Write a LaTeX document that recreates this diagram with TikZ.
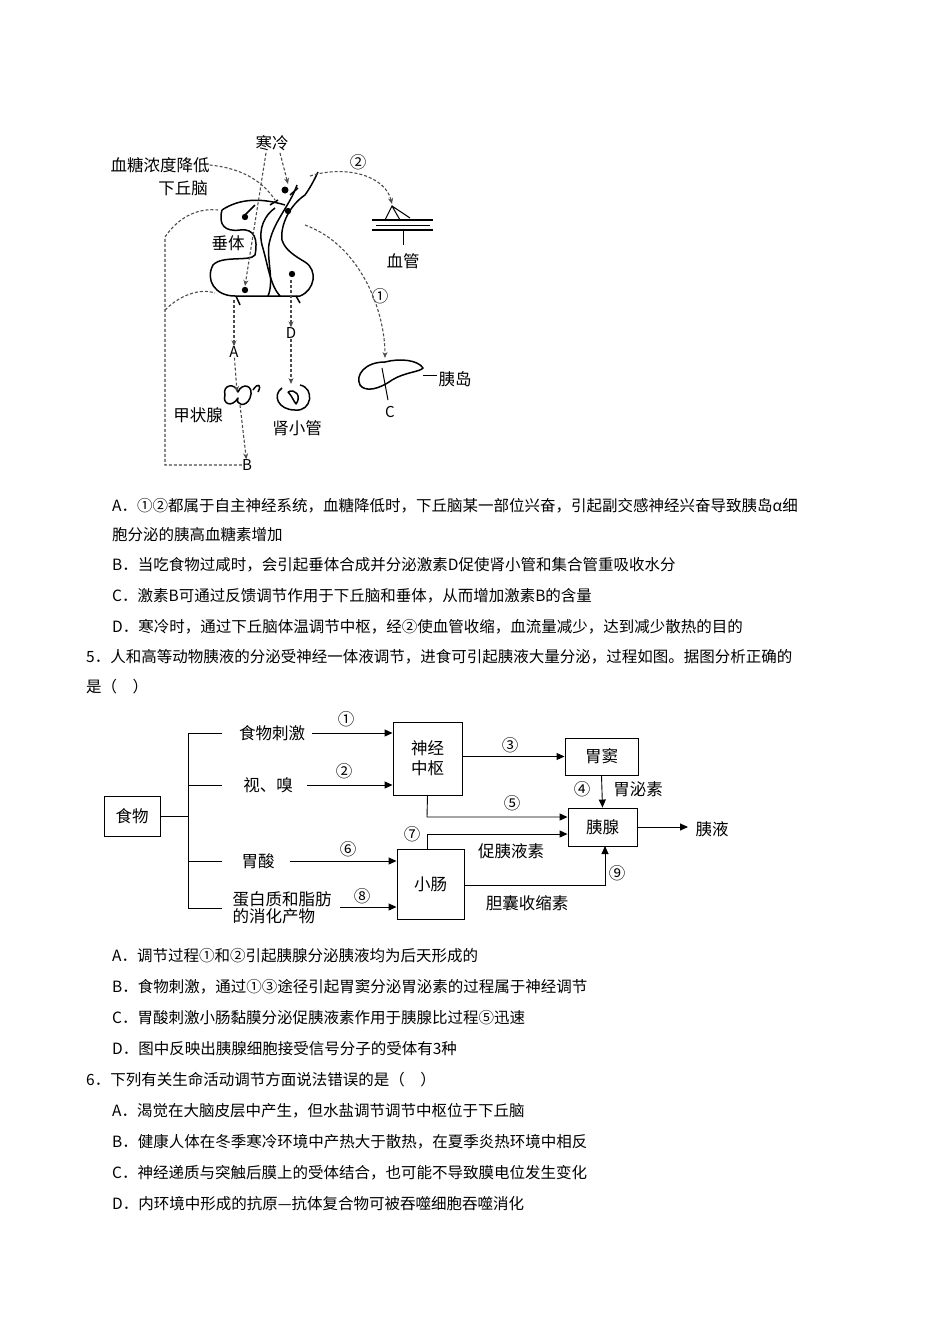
\documentclass[tikz,border=0pt]{standalone}
\usepackage{fontspec}
\setmainfont{Noto Sans CJK SC}
\usetikzlibrary{arrows.meta}
\begin{document}
\begin{tikzpicture}[x=1pt,y=-1pt,
 t/.style={font=\fontsize{15.5}{16}\selectfont,inner sep=0pt},
 opt/.style={t,anchor=west},
 lab/.style={font=\fontsize{16.5}{17}\selectfont,inner sep=0pt},
 bx/.style={draw,line width=0.9pt,minimum width=#1,inner sep=0pt,font=\fontsize{16.5}{20}\selectfont,align=center},
 ar/.style={-{Triangle[length=8pt,width=7pt]},line width=0.9pt},
 ln/.style={line width=0.9pt},
 dsh/.style={densely dashed,line width=1.1pt,gray!60!black},
 dar/.style={dsh,-{Stealth[length=6pt,width=5pt]}},
 sk/.style={line width=1.5pt,line join=round}]
\useasboundingbox (0,0) rectangle (950,1344);
% ---------- top sketch ----------
\node[lab] (cold) at (272,143) {寒冷};
\node[lab] (glu) at (160,165) {血糖浓度降低};
\node[lab] (hyp) at (183,188) {下丘脑};
\node[lab] (n2) at (358,162) {②};
\node[lab] (vessel) at (403,261) {血管};
\node[lab] (n1) at (380,296) {①};
\node[lab] (pit) at (228,243) {垂体};
\node[font=\fontsize{15}{15}\selectfont\rmfamily,inner sep=0pt] (D) at (291,333) {D};
\node[font=\fontsize{15}{15}\selectfont\rmfamily,inner sep=0pt] (A) at (234,352) {A};
\node[font=\fontsize{15}{15}\selectfont\rmfamily,inner sep=0pt] (C) at (390,412) {C};
\node[font=\fontsize{15}{15}\selectfont\rmfamily,inner sep=0pt] (B) at (247,465) {B};
\node[lab] (islet) at (455,379) {胰岛};
\node[lab] (thy) at (198,415) {甲状腺};
\node[lab] (kid) at (297,428) {肾小管};
% hypothalamus / pituitary drawing
\draw[sk] (222,210) .. controls (218,225) and (225,232) .. (240,230) .. controls (255,228) and (258,240) .. (255,255)
 .. controls (250,262) and (222,255) .. (213,265) .. controls (205,280) and (215,296) .. (235,296)
 -- (280,296) .. controls (270,285) and (268,265) .. (262,245) .. controls (258,228) and (265,215) .. (275,208);
\draw[sk] (280,296) -- (300,296) .. controls (315,290) and (318,270) .. (305,262) .. controls (295,256) and (285,250) .. (282,240)
 .. controls (280,225) and (290,205) .. (305,195) .. controls (312,185) and (315,178) .. (318,172);
\draw[sk] (268,296) .. controls (275,280) and (265,255) .. (270,240) .. controls (275,220) and (290,205) .. (297,185);
\draw[sk] (222,210) .. controls (240,198) and (262,198) .. (285,205);
\draw[sk] (245,215) -- (255,205) (270,205) -- (278,200) (290,195) -- (298,188) (236,296) -- (240,305) (296,296) -- (300,303);
\fill (285,190) circle (3.5) (245,217) circle (3.2) (288,211) circle (3.2) (245,290) circle (3.2) (292,274) circle (3.2);
% vessel icon
\draw[sk] (372,220) -- (433,220) (372,230) -- (433,230);
\draw[line width=0.7pt] (376,225) -- (430,225);
\draw[line width=1pt] (385,220) -- (392,206) -- (400,220) (392,206) -- (410,218);
\draw[line width=1pt] (403,230) -- (403,245);
% pancreas icon
\draw[sk] (385,362) .. controls (365,362) and (355,375) .. (360,385) .. controls (365,392) and (378,390) .. (392,380)
 .. controls (405,372) and (420,372) .. (423,368) .. controls (418,360) and (400,358) .. (385,362);
\draw[line width=1pt] (423,375) -- (437,375);
\draw[line width=1pt] (382,368) -- (388,400);
% thyroid icon
\draw[sk] (225,395) .. controls (222,385) and (235,382) .. (238,392) .. controls (242,382) and (255,385) .. (250,398)
 .. controls (246,408) and (235,405) .. (238,398) .. controls (232,408) and (222,404) .. (225,395);
\draw[sk] (253,390) .. controls (258,382) and (262,385) .. (258,392);
% kidney icon
\draw[sk] (300,385) .. controls (315,388) and (312,412) .. (295,410) .. controls (278,410) and (272,395) .. (282,388);
\draw[sk] (288,392) .. controls (295,388) and (302,396) .. (296,404) .. controls (293,400) and (292,396) .. (288,392);
% dashed paths
\draw[dsh] (B.west) -- (165,465) -- (165,237) .. controls (180,215) and (200,208) .. (218,210);
\draw[dsh] (165,310) .. controls (180,295) and (200,288) .. (215,293);
\draw[dsh] (glu.east) .. controls (240,168) and (262,180) .. (275,200);
\draw[dar] (cold.south) ++(-6,2) -- (245,286);
\draw[dar] (cold.south) ++(8,2) -- (288,184);
\draw[dar] (310,176) .. controls (345,165) and (385,175) .. (392,204);
\draw[dar] (305,225) .. controls (360,245) and (385,310) .. (385,358);
\draw[dar] (234,300) -- (A);
\draw[dar] (A) -- (237,392);
\draw[dar] (240,405) -- (B);
\draw[dar] (291,280) -- (D);
\draw[dar] (D) -- (291,384);
% ---------- text block 1 ----------
\node[opt] (a1) at (112,506) {A．①②都属于自主神经系统，血糖降低时，下丘脑某一部位兴奋，引起副交感神经兴奋导致胰岛α细};
\node[opt] (a2) at (112,535) {胞分泌的胰高血糖素增加};
\node[opt] (b1) at (112,565) {B．当吃食物过咸时，会引起垂体合成并分泌激素D促使肾小管和集合管重吸收水分};
\node[opt] (c1) at (112,596) {C．激素B可通过反馈调节作用于下丘脑和垂体，从而增加激素B的含量};
\node[opt] (d1) at (112,627) {D．寒冷时，通过下丘脑体温调节中枢，经②使血管收缩，血流量减少，达到减少散热的目的};
\node[opt] (q5) at (86,657) {5．人和高等动物胰液的分泌受神经一体液调节，进食可引起胰液大量分泌，过程如图。据图分析正确的};
\node[opt] (q5b) at (86,687) {是（\quad ）};
% ---------- flowchart ----------
\node[bx=56pt,minimum height=40pt] (food) at (132,816) {食物};
\node[bx=69pt,minimum height=73pt] (cns) at (427.5,758.5) {神经\\中枢};
\node[bx=73pt,minimum height=37pt] (dou) at (601.5,756.5) {胃窦};
\node[bx=69pt,minimum height=38pt] (pan) at (602.5,827) {胰腺};
\node[bx=67pt,minimum height=70pt] (si) at (430.5,884) {小肠};
\node[lab] (f1) at (272,733) {食物刺激};
\node[lab] (f2) at (268,785) {视、嗅};
\node[lab] (f3) at (258,861) {胃酸};
\node[lab,align=left] (f4) at (282,908) {蛋白质和脂肪\\的消化产物};
\node[lab] (juice) at (712,829) {胰液};
\node[lab] (c1n) at (346,719) {①};
\node[lab] (c2n) at (344,771) {②};
\node[lab] (c3n) at (510,745) {③};
\node[lab] (c4n) at (582,789) {④};
\node[lab] (gas) at (638,789) {胃泌素};
\node[lab] (c5n) at (512,803) {⑤};
\node[lab] (c6n) at (348,849) {⑥};
\node[lab] (c7n) at (412,834) {⑦};
\node[lab] (sec) at (511,851) {促胰液素};
\node[lab] (c8n) at (362,896) {⑧};
\node[lab] (c9n) at (617,873) {⑨};
\node[lab] (cck) at (527,903) {胆囊收缩素};
\draw[ln] (food.east) -- (188,816);
\draw[ln] (188,733) -- (188,908);
\draw[ln] (188,733) -- (222,733) (188,785) -- (222,785) (188,861) -- (222,861) (188,908) -- (222,908);
\draw[ar] (312,733) -- (cns.west |- 0,733);
\draw[ar] (307,785) -- (cns.west |- 0,785);
\draw[ar] (cns.east |- dou.west) -- (dou.west);
\draw[ar] (dou.south) -- (pan.north);
\draw[ar] (cns.south) -- (427,817) -- (pan.west |- 0,817);
\draw[ar] (427,849) -- (427,834) -- (pan.west |- 0,834);
\draw[ar] (290,861) -- (si.west |- 0,861);
\draw[ar] (340,907) -- (si.west |- 0,907);
\draw[ar] (si.east |- 0,885) -- (605,885) -- (605,846);
\draw[ar] (pan.east) -- (688,827);
% ---------- text block 2 ----------
\node[opt] at (112,956) {A．调节过程①和②引起胰腺分泌胰液均为后天形成的};
\node[opt] at (112,987) {B．食物刺激，通过①③途径引起胃窦分泌胃泌素的过程属于神经调节};
\node[opt] at (112,1018) {C．胃酸刺激小肠黏膜分泌促胰液素作用于胰腺比过程⑤迅速};
\node[opt] at (112,1049) {D．图中反映出胰腺细胞接受信号分子的受体有3种};
\node[opt] at (86,1080) {6．下列有关生命活动调节方面说法错误的是（\quad ）};
\node[opt] at (112,1111) {A．渴觉在大脑皮层中产生，但水盐调节调节中枢位于下丘脑};
\node[opt] at (112,1142) {B．健康人体在冬季寒冷环境中产热大于散热，在夏季炎热环境中相反};
\node[opt] at (112,1173) {C．神经递质与突触后膜上的受体结合，也可能不导致膜电位发生变化};
\node[opt] at (112,1204) {D．内环境中形成的抗原—抗体复合物可被吞噬细胞吞噬消化};
\end{tikzpicture}
\end{document}
